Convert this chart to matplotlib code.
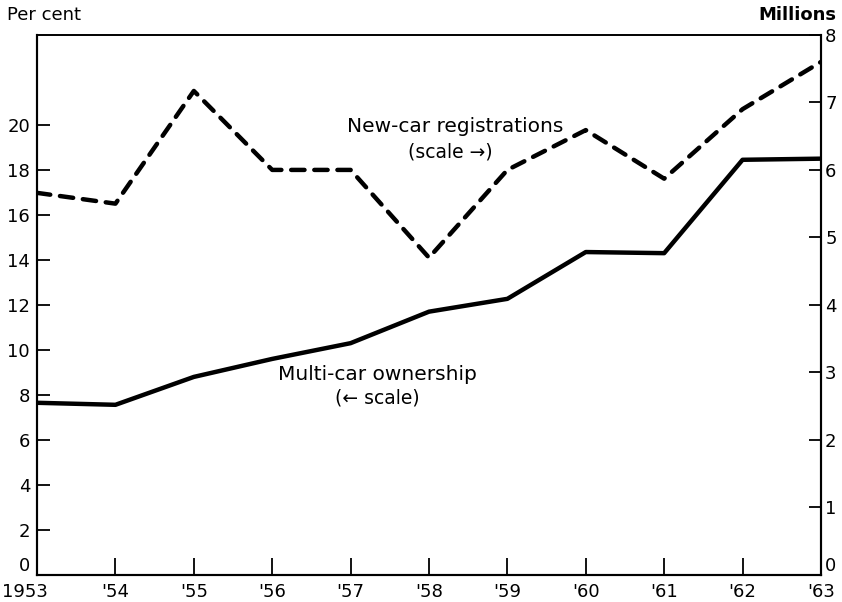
import matplotlib
matplotlib.use("Agg")
import matplotlib.pyplot as plt
import matplotlib.transforms as mtransforms

# data
years = [1953, 1954, 1955, 1956, 1957, 1958, 1959, 1960, 1961, 1962, 1963]
year_labels = ["1953", "'54", "'55", "'56", "'57", "'58", "'59", "'60", "'61", "'62", "'63"]
multi_car = [7.65, 7.56, 8.8, 9.6, 10.3, 11.7, 12.27, 14.35, 14.3, 18.45, 18.5]   # per cent
new_car = [5.66, 5.5, 7.17, 6.0, 6.0, 4.7, 6.0, 6.59, 5.87, 6.9, 7.6]             # millions
left_ticks = [0, 2, 4, 6, 8, 10, 12, 14, 16, 18, 20]
right_ticks = [0, 1, 2, 3, 4, 5, 6, 7, 8]

plt.rcParams['font.family'] = ['DejaVu Sans']
plt.rcParams['font.size'] = 13

fig = plt.figure(figsize=(8.42, 6.02), dpi=100)
ax = fig.add_axes([0.044, 0.045, 0.931, 0.897])
ax2 = ax.twinx()

ax.plot(years, multi_car, color='black', lw=3.2, solid_joinstyle='round')
ax2.plot(years, new_car, color='black', lw=3.2, linestyle=(0, (3.0, 2.2)),
         dash_capstyle='round', dash_joinstyle='round')

ax.set_xlim(1953, 1963)
ax.set_ylim(0, 24)
ax2.set_ylim(0, 8)

ax.set_xticks(years)
ax.set_xticklabels(year_labels)
ax.set_yticks(left_ticks)
ax2.set_yticks(right_ticks)

ax.tick_params(axis='x', direction='in', length=12, width=1.3, pad=6, top=False)
ax.tick_params(axis='y', direction='in', length=9, width=1.3, pad=5)
ax2.tick_params(axis='y', direction='in', length=9, width=1.3, pad=3)

# keep the end labels clear of each other and inside the figure
first = ax.get_xticklabels()[0]
first.set_horizontalalignment('left')
first.set_transform(first.get_transform() + mtransforms.ScaledTranslation(-0.35, 0, fig.dpi_scale_trans))
ax.get_yticklabels()[0].set_verticalalignment('bottom')
ax2.get_yticklabels()[0].set_verticalalignment('bottom')

for a in (ax, ax2):
    for s in a.spines.values():
        s.set_linewidth(1.5)
    a.spines['top'].set_linewidth(1.2)

fig.text(0.008, 0.975, "Per cent", ha='left', va='center', fontsize=13)
fig.text(0.993, 0.975, "Millions", ha='right', va='center', fontsize=13, fontweight='bold')

ax2.text(1958.33, 6.64, "New-car registrations", ha='center', va='center', fontsize=14.5)
ax2.text(1958.27, 6.27, "(scale \u2192)", ha='center', va='center', fontsize=13.5)
ax.text(1957.34, 8.89, "Multi-car ownership", ha='center', va='center', fontsize=14.5)
ax.text(1957.34, 7.87, "(\u2190 scale)", ha='center', va='center', fontsize=13.5)

fig.savefig("out.png", dpi=100)
